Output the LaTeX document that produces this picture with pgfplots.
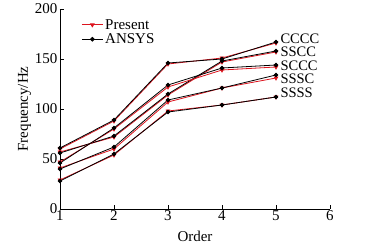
\documentclass[border=0pt]{standalone}
\usepackage{pgfplots}
\pgfplotsset{compat=1.18}
\usepackage{fontspec}
\setmainfont{Liberation Serif}
\definecolor{pred}{RGB}{220,20,30}
\begin{document}
\begin{tikzpicture}[x=1pt,y=1pt]
\begin{axis}[
  at={(60pt,39pt)}, anchor=south west,
  width=270pt, height=200pt, scale only axis,
  xmin=1, xmax=6, ymin=0, ymax=200,
  xtick={1,2,3,4,5,6}, ytick={0,50,100,150,200},
  axis x line*=bottom, axis y line*=left,
  axis line style={-, line width=0.8pt},
  tick align=inside, major tick length=4pt,
  tick style={line width=0.8pt, black},
  /pgf/number format/assume math mode=true,
  ticklabel style={font=\fontsize{15}{17}\selectfont},
  xticklabel style={yshift=2pt},
  yticklabel style={xshift=1pt},
  xlabel={Order}, ylabel={Frequency/Hz},
  label style={font=\fontsize{15}{17}\selectfont},
  xlabel style={yshift=-4pt},
  ylabel style={yshift=-3pt},
  clip=false,
  legend style={draw=none, fill=none, at={(0.075,0.965)}, anchor=north west,
    font=\fontsize{15}{17}\selectfont, row sep=-1pt, inner sep=1pt},
  legend cell align=left,
  legend image code/.code={\draw[mark repeat=2,mark phase=2] plot coordinates {(0pt,0pt)(10.5pt,0pt)(21pt,0pt)};},
  every axis plot/.append style={line width=0.8pt},
]
% CCCC
\addplot[pred, mark=triangle*, mark options={rotate=180, scale=1.0, fill=pred}] coordinates {(1,60)(2,88)(3,145)(4,151)(5,166)};
\addlegendentry{Present}
\addplot[black, mark=*, mark size=1.9pt] coordinates {(1,61)(2,89)(3,146)(4,150)(5,167)};
\addlegendentry{ANSYS}
% SSCC
\addplot[pred, mark=triangle*, mark options={rotate=180, scale=1.0, fill=pred}, forget plot] coordinates {(1,57)(2,72)(3,114)(4,147)(5,157)};
\addplot[black, mark=*, mark size=1.9pt, forget plot] coordinates {(1,56)(2,73)(3,115)(4,148)(5,158)};
% SCCC
\addplot[pred, mark=triangle*, mark options={rotate=180, scale=1.0, fill=pred}, forget plot] coordinates {(1,47)(2,80)(3,122)(4,139)(5,142)};
\addplot[black, mark=*, mark size=1.9pt, forget plot] coordinates {(1,46)(2,81)(3,124)(4,141)(5,144)};
% SSSC
\addplot[pred, mark=triangle*, mark options={rotate=180, scale=1.0, fill=pred}, forget plot] coordinates {(1,41)(2,60)(3,107)(4,121)(5,131)};
\addplot[black, mark=*, mark size=1.9pt, forget plot] coordinates {(1,40)(2,62)(3,109)(4,121)(5,134)};
% SSSS
\addplot[pred, mark=triangle*, mark options={rotate=180, scale=1.0, fill=pred}, forget plot] coordinates {(1,29)(2,54)(3,98)(4,104)(5,112)};
\addplot[black, mark=*, mark size=1.9pt, forget plot] coordinates {(1,28)(2,55)(3,97)(4,104)(5,112)};
\node[anchor=west, inner sep=0pt, font=\fontsize{14.5}{15}\selectfont] at (axis cs:5.08,170.5) {CCCC};
\node[anchor=west, inner sep=0pt, font=\fontsize{14.5}{15}\selectfont] at (axis cs:5.08,157) {SSCC};
\node[anchor=west, inner sep=0pt, font=\fontsize{14.5}{15}\selectfont] at (axis cs:5.08,143.5) {SCCC};
\node[anchor=west, inner sep=0pt, font=\fontsize{14.5}{15}\selectfont] at (axis cs:5.08,130) {SSSC};
\node[anchor=west, inner sep=0pt, font=\fontsize{14.5}{15}\selectfont] at (axis cs:5.08,116) {SSSS};
\end{axis}
\pgfresetboundingbox
\useasboundingbox (0,0) rectangle (386pt,248pt);
\end{tikzpicture}
\end{document}
